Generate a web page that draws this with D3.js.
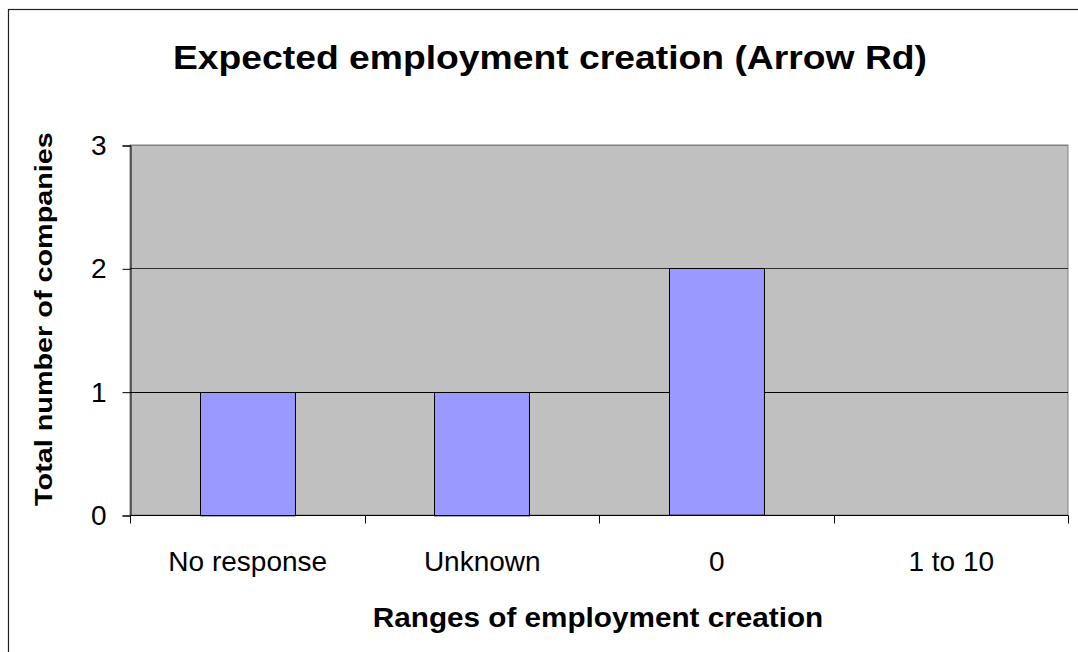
<!DOCTYPE html>
<html><head><meta charset="utf-8">
<script src="https://cdn.jsdelivr.net/npm/d3@7"></script>
<style>body{margin:0;background:#fff}svg{display:block;font-family:"Liberation Sans",Arial,sans-serif}</style>
</head><body>
<script>
const categories = ["No response", "Unknown", "0", "1 to 10"];
const values = [1, 1, 2, 0];
const yTicks = [0, 1, 2, 3];
const title = "Expected employment creation (Arrow Rd)";
const xTitle = "Ranges of employment creation";
const yTitle = "Total number of companies";

const W = 1078, H = 652;
const plot = {left: 130, top: 145, right: 1068, bottom: 515};
const svg = d3.select("body").append("svg").attr("width", W).attr("height", H);

svg.append("rect").attr("x", 8.5).attr("y", 9.5).attr("width", W + 10).attr("height", H + 10)
  .attr("fill", "#fff").attr("stroke", "#222").attr("stroke-width", 1.2);

const x = d3.scaleBand().domain(categories).range([plot.left, plot.right]).paddingInner(0.595).paddingOuter(0.2975);
const y = d3.scaleLinear().domain([0, 3]).range([plot.bottom, plot.top]);

svg.append("rect").attr("x", plot.left).attr("y", plot.top)
  .attr("width", plot.right - plot.left).attr("height", plot.bottom - plot.top)
  .attr("fill", "#c0c0c0").attr("stroke", "#808080").attr("stroke-width", 1);

svg.append("g").selectAll("line").data(yTicks.filter(d => d > 0)).join("line")
  .attr("x1", plot.left).attr("x2", plot.right)
  .attr("y1", d => Math.round(y(d)) + 0.5).attr("y2", d => Math.round(y(d)) + 0.5)
  .attr("stroke", d => d === 3 ? "#808080" : d === 2 ? "#303030" : "#000").attr("stroke-width", 1);

svg.append("g").selectAll("rect").data(values).join("rect")
  .attr("x", (d, i) => Math.round(x(categories[i])) + 0.5)
  .attr("y", d => Math.round(y(d)) + 0.5)
  .attr("width", x.bandwidth())
  .attr("height", d => y(0) - y(d))
  .attr("fill", "#9999ff").attr("stroke", "#000").attr("stroke-width", 1);

const yAxis = d3.axisLeft(y).tickValues(yTicks).tickFormat(d3.format("d")).tickSize(8).tickPadding(16);
const gy = svg.append("g").attr("transform", `translate(${plot.left + 0.5},0.5)`).call(yAxis);
gy.select(".domain").attr("stroke", "#000");
gy.selectAll("text").attr("font-size", 28).attr("fill", "#000").attr("font-family", "Liberation Sans, Arial, sans-serif");

const xb = d3.scaleLinear().domain([0, 4]).range([plot.left, plot.right]);
const gx = svg.append("g").attr("transform", `translate(0.5,${plot.bottom + 0.5})`);
gx.append("line").attr("x1", plot.left).attr("x2", plot.right).attr("stroke", "#000");
gx.selectAll("line.t").data(d3.range(5)).join("line").attr("class", "t")
  .attr("x1", d => Math.round(xb(d))).attr("x2", d => Math.round(xb(d)))
  .attr("y1", 0).attr("y2", 8).attr("stroke", "#000");
gx.selectAll("text").data(categories).join("text")
  .attr("x", d => x(d) + x.bandwidth() / 2).attr("y", 55)
  .attr("text-anchor", "middle").attr("font-size", 28).attr("fill", "#000").text(d => d);

svg.append("text").attr("transform", "translate(550,69) scale(1.13,1)").attr("text-anchor", "middle")
  .attr("font-size", 33).attr("font-weight", "bold").text(title);
svg.append("text").attr("transform", "translate(598,627) scale(1.1,1)").attr("text-anchor", "middle")
  .attr("font-size", 27).attr("font-weight", "bold").text(xTitle);
svg.append("text").attr("transform", "translate(52,319) rotate(-90) scale(1.2,1)").attr("text-anchor", "middle")
  .attr("font-size", 24).attr("font-weight", "bold").text(yTitle);
</script>
</body></html>
